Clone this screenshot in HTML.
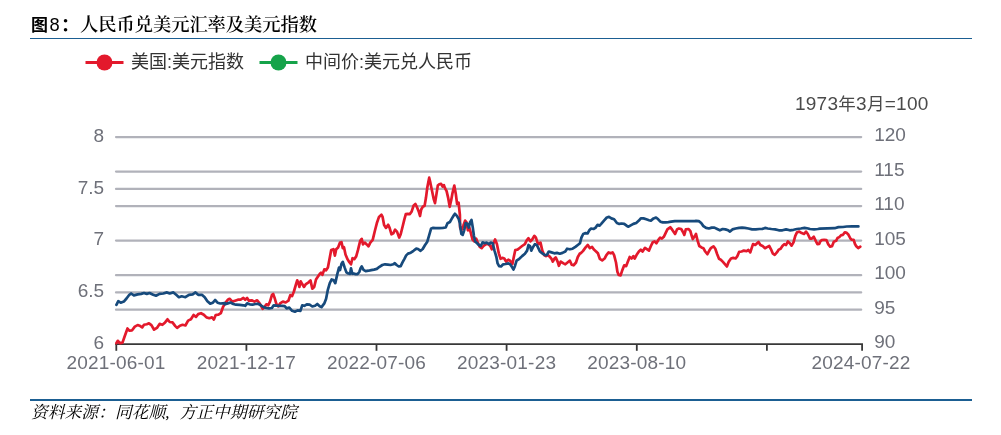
<!DOCTYPE html>
<html lang="zh-CN">
<head>
<meta charset="utf-8">
<title>图8：人民币兑美元汇率及美元指数</title>
<style>
html,body{margin:0;padding:0;background:#fff;}
body{width:1001px;height:435px;position:relative;overflow:hidden;font-family:"Liberation Sans","Noto Sans CJK SC",sans-serif;}
.title{position:absolute;left:31px;top:11.5px;height:26px;line-height:26px;font-size:18.3px;font-weight:700;color:#000;white-space:nowrap;font-family:"Liberation Serif","Noto Serif CJK SC",serif;}
.title .fig{font-family:"Liberation Sans","Noto Sans CJK SC",sans-serif;font-weight:700;font-size:18.3px;}
.title .f1{font-size:17px;letter-spacing:1.6px;}
.title .f2{letter-spacing:1.2px;font-weight:400;}
.title .tt{font-weight:600;letter-spacing:-0.06px;margin-left:0.8px;}
.rule{position:absolute;left:30px;width:942px;height:1.6px;background:#1b5e92;}
.rule.top{top:37.6px;}
.rule.bot{top:399.1px;height:2px;}
.source{position:absolute;left:31px;top:402px;height:22px;line-height:22px;font-size:16.8px;font-style:italic;word-spacing:5.9px;color:#000;white-space:nowrap;font-family:"Liberation Serif","Noto Serif CJK SC",serif;}
svg{position:absolute;left:0;top:0;}
svg text{font-family:"Liberation Sans","Noto Sans CJK SC",sans-serif;}
.ax{font-size:19px;fill:#6e7079;}
.lg{font-size:18px;fill:#333;}
</style>
</head>
<body>
<div class="title"><span class="fig"><span class="f1">图</span><span class="f2">8</span>：</span><span class="tt">人民币兑美元汇率及美元指数</span></div>
<div class="rule top"></div>
<svg width="1001" height="435" viewBox="0 0 1001 435">
  <!-- legend -->
  <g>
    <line x1="85.5" y1="62.5" x2="123.5" y2="62.5" stroke="#e3192c" stroke-width="3"/>
    <circle cx="104.5" cy="62.5" r="8" fill="#e3192c"/>
    <text class="lg" x="131" y="68.2">美国:美元指数</text>
    <line x1="259.5" y1="62.5" x2="297.5" y2="62.5" stroke="#16a34a" stroke-width="3"/>
    <circle cx="278.5" cy="62.5" r="8" fill="#16a34a"/>
    <text class="lg" x="305" y="68.2">中间价:美元兑人民币</text>
  </g>
  <text x="928.6" y="110" text-anchor="end" font-size="19" letter-spacing="0.27" fill="#4a4a4a">1973<tspan font-size="17.5">年</tspan>3<tspan font-size="17.5">月</tspan>=100</text>
  <!-- grid lines -->
  <g stroke="#b1b2ba" stroke-width="2.2" stroke-linecap="round">
    <line x1="116" y1="137.1" x2="861.2" y2="137.1"/>
    <line x1="116" y1="171.6" x2="861.2" y2="171.6"/>
    <line x1="116" y1="188.9" x2="861.2" y2="188.9"/>
    <line x1="116" y1="206.1" x2="861.2" y2="206.1"/>
    <line x1="116" y1="240.6" x2="861.2" y2="240.6"/>
    <line x1="116" y1="275.2" x2="861.2" y2="275.2"/>
    <line x1="116" y1="292.4" x2="861.2" y2="292.4"/>
    <line x1="116" y1="309.7" x2="861.2" y2="309.7"/>
  </g>
  <!-- x axis -->
  <g stroke="#383838" stroke-width="1.8" fill="none">
    <line x1="115.3" y1="344.2" x2="863" y2="344.2"/>
    <line x1="116.3" y1="344" x2="116.3" y2="350.8"/>
    <line x1="246.4" y1="344" x2="246.4" y2="350.8"/>
    <line x1="376.5" y1="344" x2="376.5" y2="350.8"/>
    <line x1="506.6" y1="344" x2="506.6" y2="350.8"/>
    <line x1="636.8" y1="344" x2="636.8" y2="350.8"/>
    <line x1="766.9" y1="344" x2="766.9" y2="350.8"/>
    <line x1="862.1" y1="344" x2="862.1" y2="350.8"/>
  </g>
  <!-- left axis labels -->
  <g class="ax" text-anchor="end">
    <text x="104.2" y="141.7">8</text>
    <text x="104.2" y="193.5">7.5</text>
    <text x="104.2" y="245.2">7</text>
    <text x="104.2" y="297.0">6.5</text>
    <text x="104.2" y="348.8">6</text>
  </g>
  <!-- right axis labels -->
  <g class="ax" text-anchor="start">
    <text x="874.2" y="141.0">120</text>
    <text x="874.2" y="175.5">115</text>
    <text x="874.2" y="210.0">110</text>
    <text x="874.2" y="244.5">105</text>
    <text x="874.2" y="279.1">100</text>
    <text x="874.2" y="313.6">95</text>
    <text x="874.2" y="348.1">90</text>
  </g>
  <!-- x axis labels -->
  <g class="ax" text-anchor="middle" letter-spacing="0.2">
    <text x="116" y="369">2021-06-01</text>
    <text x="246.4" y="369">2021-12-17</text>
    <text x="376.5" y="369">2022-07-06</text>
    <text x="506.6" y="369">2023-01-23</text>
    <text x="636.8" y="369">2023-08-10</text>
    <text x="861" y="369">2024-07-22</text>
  </g>
  <!-- series -->
  <polyline fill="none" stroke="#e3192c" stroke-width="2.7" stroke-linejoin="round" stroke-linecap="round" points="116.4,343.2 117.7,340.8 120.1,343.2 122.5,342.6 124.7,336.2 127.5,328.5 129.3,330.7 132.1,330.3 134.8,326.6 137.6,325.1 140.3,326.1 142.2,327.4 144.0,324.8 146.8,324.2 149.0,323.3 151.4,325.1 154.1,329.7 156.9,327.9 159.6,323.9 162.4,324.8 165.1,322.4 167.5,319.3 169.7,322.0 172.5,322.4 175.3,326.1 177.1,327.9 179.9,325.7 182.6,324.8 185.4,325.5 188.1,320.6 190.9,319.3 193.6,315.0 196.0,316.9 198.2,314.1 201.0,313.2 203.8,314.7 206.5,317.4 209.3,318.2 212.0,317.4 213.9,319.6 215.7,315.0 218.5,314.7 220.8,313.2 223.1,306.8 225.0,303.4 227.8,299.7 229.6,298.8 232.4,301.6 235.1,300.7 237.9,299.7 240.6,299.7 243.4,297.9 245.2,299.7 247.1,297.9 248.9,300.7 251.7,300.3 254.4,301.6 257.2,300.3 259.0,302.5 260.8,305.3 262.7,308.9 264.5,307.1 266.4,304.3 268.2,305.3 270.0,301.6 271.9,295.1 273.2,293.9 274.6,297.9 276.5,304.3 278.3,306.2 280.1,303.4 282.9,301.6 285.7,302.5 288.4,300.7 290.3,295.1 292.1,296.1 293.9,291.5 295.8,285.0 297.2,280.4 298.5,283.2 299.4,286.9 300.7,281.4 302.2,284.1 304.0,286.9 305.9,284.1 308.6,282.3 310.5,280.4 312.3,288.7 314.2,286.9 316.0,279.5 317.8,276.8 319.7,274.0 321.0,272.7 322.4,274.9 324.3,269.4 326.1,270.3 327.9,267.6 329.8,257.5 331.2,250.1 333.5,249.2 334.9,255.6 336.2,249.2 338.1,247.4 339.9,242.8 340.0,242.6 341.5,242.2 342.8,248.1 344.0,247.2 345.5,254.5 347.4,259.1 349.2,261.9 351.0,264.3 352.5,258.2 354.3,259.1 356.2,256.4 358.0,249.9 360.2,240.8 361.7,238.9 363.0,244.4 364.8,242.6 366.7,244.4 368.5,246.3 370.3,242.6 372.7,239.9 374.9,230.7 376.8,223.3 379.0,216.9 381.4,214.7 382.6,216.9 384.1,225.1 386.0,227.9 388.2,224.8 389.6,227.9 391.5,234.3 393.3,233.4 395.1,229.7 397.0,231.6 399.2,237.6 400.7,234.3 402.5,227.0 404.3,219.6 405.8,214.1 407.6,213.8 409.9,214.1 411.7,211.4 413.5,205.8 415.4,204.0 417.2,207.7 418.7,211.4 420.0,216.0 421.2,209.5 422.7,206.8 424.6,205.8 426.0,197.6 427.3,187.5 429.2,177.7 430.4,182.9 431.9,190.2 433.8,199.4 435.0,203.1 436.5,193.9 437.8,185.6 439.3,184.3 441.1,183.8 442.6,186.5 443.9,185.1 445.1,188.4 446.6,191.1 448.1,197.6 449.7,206.8 451.2,200.3 452.5,193.0 454.3,185.6 455.8,193.9 457.1,204.0 458.6,202.7 459.9,215.0 460.1,227.6 461.4,230.3 463.3,225.7 465.1,220.6 466.4,222.1 467.9,230.3 469.3,227.6 470.6,232.2 472.5,239.5 474.3,241.4 476.1,238.6 478.0,243.2 479.8,246.9 481.7,248.2 483.5,246.0 485.9,244.1 488.1,243.8 490.3,246.0 491.8,249.3 493.2,244.1 495.1,239.5 496.9,244.1 498.8,253.3 500.6,258.8 502.4,257.9 504.3,258.5 506.1,261.6 508.3,259.7 510.1,260.7 512.4,264.0 513.8,257.0 515.3,250.0 517.5,249.6 519.3,248.2 522.1,246.0 524.9,244.1 526.7,240.4 528.5,238.2 530.4,241.4 532.2,239.5 534.4,235.8 535.9,237.7 537.4,242.3 538.6,244.1 540.5,242.6 542.3,250.6 544.2,255.1 546.0,256.1 547.8,255.1 549.7,256.6 551.5,258.8 552.8,261.6 554.3,258.8 555.7,257.4 557.6,261.6 558.9,265.8 560.7,261.6 563.5,263.4 565.3,264.3 567.5,262.5 569.9,260.7 571.7,264.7 573.6,265.3 576.0,262.5 577.8,257.0 580.0,253.3 580.7,253.3 582.9,251.1 585.6,247.4 587.8,245.0 589.9,248.2 592.1,246.9 593.9,249.6 596.1,251.5 597.9,253.3 599.8,258.8 602.2,260.3 604.6,258.5 606.4,255.1 608.6,252.4 610.8,253.3 612.6,252.4 614.1,255.1 616.0,262.5 617.4,271.7 618.7,275.0 620.6,275.4 622.4,269.9 624.2,265.3 626.1,266.2 627.9,261.6 629.7,257.0 631.6,258.5 633.4,256.1 634.7,258.5 636.5,255.1 638.9,251.5 640.8,249.6 642.6,251.5 645.0,247.8 647.2,249.3 649.0,250.6 650.9,246.0 652.7,242.3 654.6,241.4 656.4,243.2 658.6,239.5 660.1,237.7 661.9,238.6 663.8,236.8 665.6,233.1 667.4,229.4 670.2,227.2 672.0,229.4 673.9,232.2 675.1,234.0 677.0,229.4 678.8,228.5 681.2,229.0 683.1,232.2 684.3,234.9 685.8,229.4 688.6,229.0 690.4,231.2 691.7,235.8 692.8,239.0 695.0,235.8 696.0,234.0 697.5,240.4 699.3,246.0 701.5,247.4 703.4,248.2 705.2,251.5 707.4,254.2 709.3,250.6 711.1,247.8 713.5,246.3 715.3,248.7 717.2,254.2 719.0,258.8 720.8,259.7 722.7,261.6 725.1,264.3 726.9,266.5 728.8,261.6 731.0,258.5 733.2,257.9 735.6,258.5 737.4,256.1 739.2,251.8 741.6,251.5 743.8,250.6 746.6,251.1 748.4,250.0 750.3,252.4 751.5,248.7 753.0,244.1 755.2,245.0 757.1,243.2 758.5,241.9 760.4,245.0 762.6,246.0 765.0,248.2 767.4,246.9 769.2,246.0 771.0,249.3 772.9,253.7 774.7,254.8 776.9,252.4 778.8,249.6 780.6,248.7 782.4,246.0 784.3,244.1 786.1,245.0 787.9,241.4 789.8,243.2 791.6,245.6 793.5,242.3 795.3,235.8 797.1,232.2 799.3,231.6 801.7,233.1 804.1,234.0 806.0,231.6 807.8,234.0 810.0,238.6 811.9,238.6 813.8,236.8 816.0,241.4 817.4,244.1 819.3,243.8 820.0,241.7 821.8,240.0 824.1,239.8 826.4,240.0 828.3,244.4 830.1,246.7 832.0,246.3 833.8,241.7 836.1,240.8 837.5,238.0 839.3,237.1 841.2,235.1 843.0,234.8 844.8,232.3 846.7,232.9 848.5,234.8 850.4,238.5 851.7,239.7 853.6,239.8 855.0,244.0 856.3,246.3 858.2,248.1 860.3,246.7"/>
  <polyline fill="none" stroke="#174a7c" stroke-width="2.7" stroke-linejoin="round" stroke-linecap="round" points="116.4,304.9 118.3,301.2 120.7,302.7 123.8,301.6 126.5,298.5 129.3,294.8 131.1,293.5 133.9,295.4 137.6,294.4 141.2,293.9 144.0,293.0 146.8,293.9 149.5,293.0 153.2,294.8 156.0,295.7 159.6,293.9 163.3,293.5 167.0,292.4 169.7,293.5 173.4,292.4 176.2,294.8 178.9,297.2 181.7,296.3 185.4,297.2 189.0,294.8 192.7,294.3 195.5,292.4 198.2,294.8 201.9,294.8 204.7,297.2 207.4,301.2 210.2,303.6 212.9,302.7 215.1,300.0 217.5,302.7 220.3,303.5 224.9,303.1 225.0,304.3 227.8,303.4 230.5,302.5 233.3,304.0 236.0,304.7 239.7,304.9 243.4,305.3 245.2,305.8 247.1,303.4 249.8,304.3 252.6,304.7 255.3,304.0 258.1,303.8 260.8,305.3 263.6,307.1 266.4,308.0 269.1,308.4 271.9,308.0 273.7,305.3 276.5,305.6 279.2,305.8 282.0,305.8 284.7,306.2 286.6,308.4 289.3,307.6 292.1,310.8 294.9,311.7 297.6,310.4 300.4,310.8 302.2,305.3 304.4,305.8 306.8,304.3 309.6,304.7 312.3,306.5 315.1,305.8 317.3,304.0 319.7,306.2 321.5,307.1 324.3,303.4 326.1,298.8 327.9,289.6 329.8,283.2 331.6,279.5 333.5,280.1 335.3,283.2 337.1,274.9 339.0,267.6 340.0,270.1 341.5,263.7 342.8,261.9 344.6,267.4 346.4,272.4 348.3,273.5 350.1,273.8 351.0,268.3 352.3,273.8 353.8,273.5 355.6,274.2 357.5,274.2 359.3,272.0 360.6,268.3 361.7,266.5 363.5,269.8 365.7,271.1 368.5,270.7 371.2,270.1 374.0,269.6 376.8,268.9 379.5,266.8 382.3,265.0 385.0,264.3 387.8,264.6 390.6,265.0 393.3,264.3 394.8,263.2 396.6,265.0 398.8,266.5 400.7,266.1 402.5,262.4 404.3,259.1 406.2,255.4 408.0,253.6 410.8,252.7 413.5,250.8 416.3,248.6 418.1,249.0 420.3,250.8 422.7,249.0 424.9,245.3 427.3,241.7 429.2,235.2 431.0,228.8 432.8,227.9 435.6,228.2 439.3,228.2 442.9,227.9 445.7,227.5 447.5,223.3 449.9,222.0 451.8,218.7 454.0,215.0 454.9,213.8 456.7,215.6 458.6,218.7 459.9,223.3 460.1,225.7 461.4,234.0 462.7,234.9 464.2,230.3 465.7,223.0 467.5,223.9 468.8,227.6 470.1,222.1 471.5,219.9 472.8,227.6 473.9,235.8 475.2,241.4 477.1,243.2 478.9,245.0 480.7,246.0 482.6,242.3 484.4,243.2 486.6,242.6 489.0,244.1 490.8,242.6 492.7,243.2 494.5,250.6 496.4,257.0 497.6,263.4 499.1,266.2 501.0,266.5 503.2,264.3 505.6,264.0 508.3,263.4 510.1,264.3 512.0,267.1 513.5,269.5 514.9,266.2 516.6,260.7 519.3,258.8 522.1,256.1 524.9,253.7 527.1,250.6 528.5,245.0 530.0,246.0 531.3,250.6 533.1,246.9 535.0,244.1 536.8,245.0 538.6,248.7 539.9,251.5 542.3,253.3 545.1,255.1 546.9,254.8 548.8,251.5 551.5,252.4 554.3,253.3 557.0,252.9 559.8,253.7 562.5,252.9 565.3,251.5 567.1,248.7 569.9,249.3 572.6,248.7 575.4,246.9 577.8,245.0 580.0,243.2 581.4,237.7 583.2,234.0 585.6,233.1 587.5,233.5 589.3,230.3 591.1,228.5 593.5,229.0 595.4,227.9 597.6,224.8 599.4,225.7 601.2,223.9 604.0,220.6 606.8,217.5 609.0,216.9 611.4,218.4 614.1,219.3 616.9,223.0 619.3,223.9 621.5,223.5 624.2,223.9 626.6,225.7 628.5,226.7 630.7,225.4 633.4,223.9 636.2,223.0 638.9,220.6 640.8,218.4 643.5,218.4 646.3,219.3 649.0,220.2 650.9,220.6 653.6,218.4 656.0,217.5 658.2,219.3 660.4,221.7 662.8,222.4 665.6,222.4 668.3,222.1 671.1,221.7 674.8,221.1 680.3,221.1 687.6,221.1 695.0,221.1 696.0,220.8 698.8,221.1 701.2,223.0 703.4,226.1 706.1,227.9 708.9,228.5 711.7,227.6 714.4,227.6 717.2,229.0 719.9,230.3 722.7,229.0 725.4,229.4 728.2,230.3 730.0,231.6 732.4,229.4 735.6,228.5 739.2,227.9 742.0,227.6 744.7,227.9 748.4,228.5 752.1,229.4 755.8,229.4 759.4,229.0 762.2,229.0 765.0,227.9 767.7,228.5 771.4,229.0 775.1,229.4 778.8,230.3 782.4,230.3 786.1,229.4 789.8,230.3 793.5,229.8 797.1,229.0 800.8,228.5 804.5,227.9 808.2,228.5 810.0,229.0 814.1,229.4 817.8,229.0 820.0,228.6 827.4,228.4 834.7,228.2 838.4,227.1 843.0,227.0 846.7,226.5 852.2,226.4 858.4,226.4"/>
</svg>
<div class="rule bot"></div>
<div class="source">资料来源：同花顺, 方正中期研究院</div>
</body>
</html>
